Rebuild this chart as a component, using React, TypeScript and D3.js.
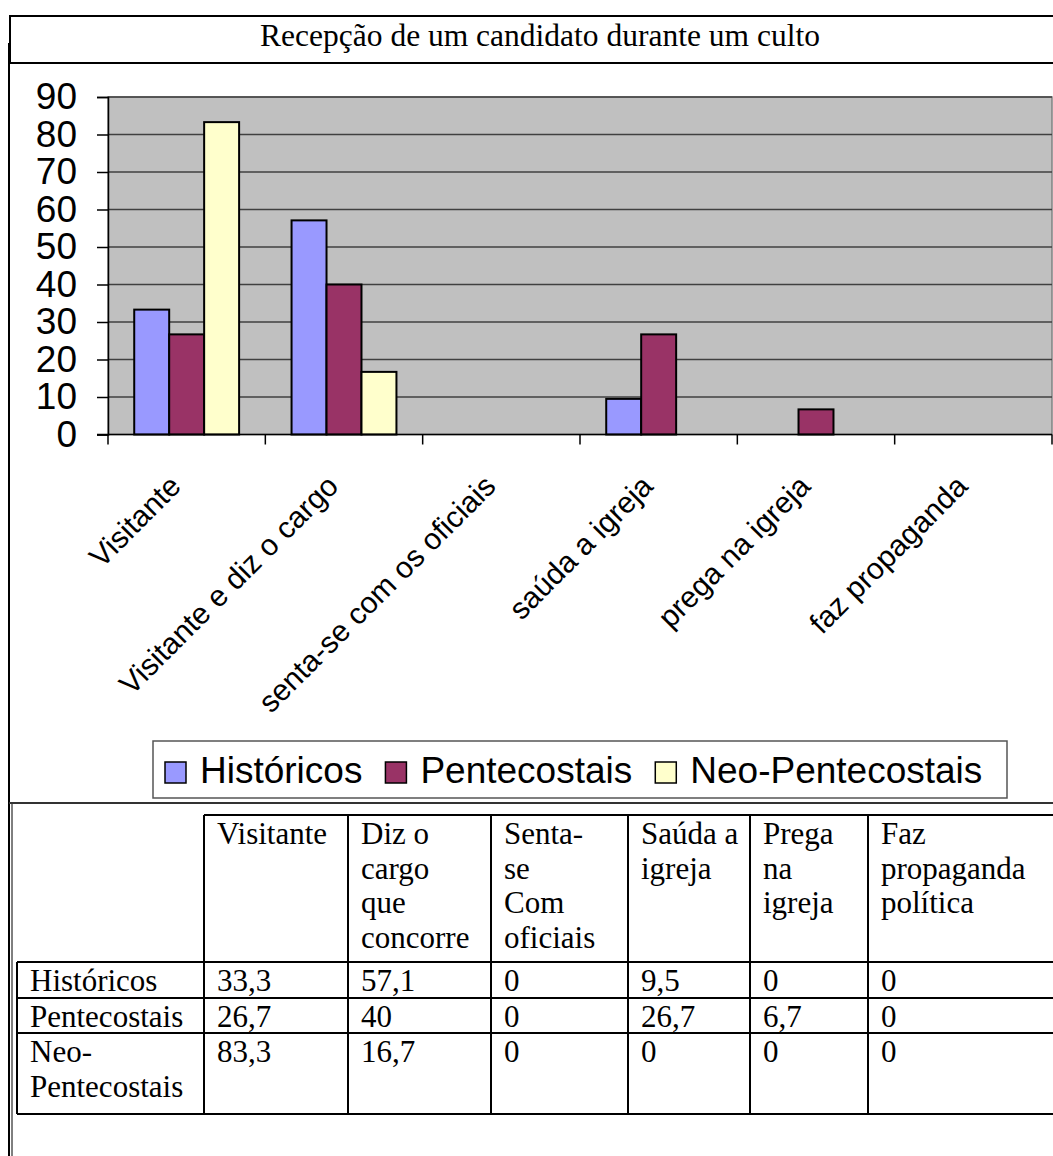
import { useEffect, useRef } from 'react';
import * as d3 from 'd3';

const title = 'Recepção de um candidato durante um culto';
const categories = [
  'Visitante',
  'Visitante e diz o cargo',
  'senta-se com os oficiais',
  'saúda a igreja',
  'prega na igreja',
  'faz propaganda',
];
const seriesNames = ['Históricos', 'Pentecostais', 'Neo-Pentecostais'];
const historicos = [33.3, 57.1, 0, 9.5, 0, 0];
const pentecostais = [26.7, 40, 0, 26.7, 6.7, 0];
const neoPentecostais = [83.3, 16.7, 0, 0, 0, 0];
const seriesColors = ['#9999FF', '#993366', '#FFFFCC'];
const yTicks = [0, 10, 20, 30, 40, 50, 60, 70, 80, 90];

const tableHeaders = [
  ['Visitante'],
  ['Diz o', 'cargo', 'que', 'concorre'],
  ['Senta-', 'se', 'Com', 'oficiais'],
  ['Saúda a', 'igreja'],
  ['Prega', 'na', 'igreja'],
  ['Faz', 'propaganda', 'política'],
];
const rowLabels = [['Históricos'], ['Pentecostais'], ['Neo-', 'Pentecostais']];

const W = 1053;
const H = 1156;

const App = () => {
  const ref = useRef<SVGSVGElement>(null);

  useEffect(() => {
    const svg = d3.select(ref.current);
    svg.selectAll('*').remove();

    const seriesValues = [historicos, pentecostais, neoPentecostais];
    const sans = 'Liberation Sans, Arial, sans-serif';
    const serif = 'Liberation Serif, Times New Roman, serif';

    // frame lines
    svg.append('rect').attr('x', 10).attr('y', 16).attr('width', W).attr('height', 47)
      .attr('fill', 'white').attr('stroke', '#000').attr('stroke-width', 2);
    svg.append('line').attr('x1', 9).attr('x2', 9).attr('y1', 43).attr('y2', H)
      .attr('stroke', '#000').attr('stroke-width', 2);
    svg.append('line').attr('x1', 12).attr('x2', 12).attr('y1', 803).attr('y2', H)
      .attr('stroke', '#000').attr('stroke-width', 1);
    svg.append('line').attr('x1', 9).attr('x2', W).attr('y1', 803).attr('y2', 803)
      .attr('stroke', '#333').attr('stroke-width', 2);

    svg.append('text').attr('x', 540).attr('y', 46).attr('text-anchor', 'middle')
      .style('font-family', serif).style('font-size', '31.5px').text(title);

    // scales
    const x0 = d3.scaleBand().domain(categories).range([108, 1052]).paddingInner(0).paddingOuter(0);
    const x1 = d3.scaleBand().domain(seriesNames).range([0, x0.bandwidth()]).paddingInner(0).paddingOuter(0.75);
    const y = d3.scaleLinear().domain([0, 90]).range([434.5, 97]);

    // plot area
    svg.append('rect').attr('x', 108).attr('y', y(90)).attr('width', 1052 - 108).attr('height', y(0) - y(90))
      .attr('fill', '#C0C0C0').attr('stroke', '#808080').attr('stroke-width', 1.5);

    svg.append('g').selectAll('line').data(yTicks.filter((t) => t > 0)).enter().append('line')
      .attr('x1', 108).attr('x2', 1052).attr('y1', (d) => y(d)).attr('y2', (d) => y(d))
      .attr('stroke', '#404040').attr('stroke-width', 1.5);

    // y axis
    const yAxis = svg.append('g').attr('transform', 'translate(108,0)')
      .call(d3.axisLeft(y).tickValues(yTicks).tickSize(11).tickPadding(20).tickFormat(d3.format('d')));
    yAxis.select('.domain').attr('stroke', '#000').attr('stroke-width', 1.5);
    yAxis.selectAll('.tick line').attr('stroke', '#000').attr('stroke-width', 1.5);
    yAxis.selectAll('.tick text').style('font-family', sans).style('font-size', '37px').attr('fill', '#000');

    // bars
    svg.append('g').selectAll('g').data(seriesValues).enter().append('g')
      .attr('fill', (_, i) => seriesColors[i])
      .each(function (vals, si) {
        const pts = vals.map((v, i) => ({ v, cat: categories[i] })).filter((d) => d.v > 0);
        d3.select(this).selectAll('rect').data(pts).enter().append('rect')
          .attr('x', (d) => (x0(d.cat) as number) + (x1(seriesNames[si]) as number))
          .attr('y', (d) => y(d.v))
          .attr('width', x1.bandwidth())
          .attr('height', (d) => y(0) - y(d.v))
          .attr('stroke', '#000').attr('stroke-width', 2);
      });

    // x axis
    svg.append('line').attr('x1', 97).attr('x2', 1052).attr('y1', y(0)).attr('y2', y(0))
      .attr('stroke', '#000').attr('stroke-width', 1.5);
    const boundaries = categories.map((c) => x0(c) as number).concat([1052]);
    svg.append('g').selectAll('line').data(boundaries).enter().append('line')
      .attr('x1', (d) => d).attr('x2', (d) => d).attr('y1', y(0)).attr('y2', y(0) + 10)
      .attr('stroke', '#000').attr('stroke-width', 1.5);

    svg.append('g').selectAll('text').data(categories).enter().append('text')
      .attr('transform', (d) => `translate(${(x0(d) as number) + x0.bandwidth() / 2 - 4},488) rotate(-45)`)
      .attr('text-anchor', 'end')
      .style('font-family', sans).style('font-size', '30px')
      .text((d) => d);

    // legend
    svg.append('rect').attr('x', 153).attr('y', 741).attr('width', 854).attr('height', 57)
      .attr('fill', 'white').attr('stroke', '#555').attr('stroke-width', 1.5);
    let lx = 165;
    seriesNames.forEach((name, i) => {
      svg.append('rect').attr('x', lx).attr('y', 762).attr('width', 21).attr('height', 21)
        .attr('fill', seriesColors[i]).attr('stroke', '#000').attr('stroke-width', 1.5);
      const t = svg.append('text').attr('x', lx + 35).attr('y', 783)
        .style('font-family', sans).style('font-size', '37px').text(name);
      const len = (t.node() as SVGTextElement).getComputedTextLength();
      lx = lx + 35 + len + 23;
    });

    // table
    const cols = [17, 204, 348, 491, 628, 750, 868, 1075];
    const rowTops = [815, 962, 998, 1033, 1114];
    const lineH = 34.5;
    const tbl = svg.append('g').attr('stroke', '#000').attr('stroke-width', 2);
    // header row borders (no border on first cell)
    tbl.append('line').attr('x1', cols[1]).attr('x2', W).attr('y1', rowTops[0]).attr('y2', rowTops[0]);
    rowTops.slice(1).forEach((ry) => {
      tbl.append('line').attr('x1', cols[0]).attr('x2', W).attr('y1', ry).attr('y2', ry);
    });
    cols.forEach((cx, ci) => {
      tbl.append('line').attr('x1', cx).attr('x2', cx)
        .attr('y1', ci === 0 ? rowTops[1] : rowTops[0]).attr('y2', rowTops[4]);
    });

    const cellText = (lines: string[], cx: number, top: number) => {
      const t = svg.append('text').style('font-family', serif).style('font-size', '31px');
      lines.forEach((ln, k) => {
        t.append('tspan').attr('x', cx + 13).attr('y', top + 29 + k * lineH).text(ln);
      });
    };
    tableHeaders.forEach((lines, i) => cellText(lines, cols[i + 1], rowTops[0]));
    rowLabels.forEach((lines, r) => {
      cellText(lines, cols[0], rowTops[r + 1]);
      seriesValues[r].forEach((v, c) => {
        cellText([String(v).replace('.', ',')], cols[c + 1], rowTops[r + 1]);
      });
    });
  }, []);

  return (
    <svg
      ref={ref}
      width={W}
      height={H}
      style={{ position: 'absolute', left: 0, top: 0, background: 'white' }}
    />
  );
};

export default App;
